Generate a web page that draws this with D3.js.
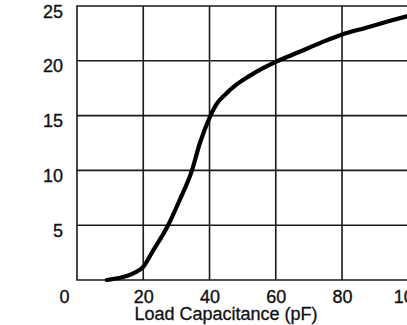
<!DOCTYPE html>
<html><head><meta charset="utf-8">
<script src="https://cdn.jsdelivr.net/npm/d3@7"></script>
<style>
html,body{margin:0;padding:0;background:#fff;}
svg{display:block;}
text{font-family:"Liberation Sans",Arial,sans-serif;fill:#111;}
</style></head>
<body><svg id="c" width="407" height="325"></svg>
<script>
// Data
const capacitance = [9, 13, 17, 20, 23, 27.5, 31, 34.7, 37.1, 40, 42, 45, 48, 52, 56, 60, 67, 74, 80, 87, 94, 100];
const yValues     = [0, 0.2, 0.6, 1.2, 2.7, 5, 7.3, 10, 12.5, 14.8, 16.0, 17.0, 17.8, 18.6, 19.3, 19.9, 20.8, 21.7, 22.4, 23.0, 23.6, 24.1];
const xTicks = [0, 20, 40, 60, 80, 100];
const yTicks = [5, 10, 15, 20, 25];
const xGrid = [20, 40, 60, 80];
const yGrid = [5, 10, 15, 20];
const xTitle = "Load Capacitance (pF)";

const svg = d3.select("#c");
const x = d3.scaleLinear().domain([0, 100]).range([77, 408.3]);
const y = d3.scaleLinear().domain([0, 25]).range([280, 6]);

const stroke = "#1a1a1a";
// gridlines
svg.append("g").selectAll("line").data(xGrid).join("line")
  .attr("x1", d => x(d)).attr("x2", d => x(d)).attr("y1", y(25)).attr("y2", y(0))
  .attr("stroke", stroke).attr("stroke-width", 1.6);
svg.append("g").selectAll("line").data(yGrid).join("line")
  .attr("x1", x(0)).attr("x2", x(100)).attr("y1", d => y(d)).attr("y2", d => y(d))
  .attr("stroke", stroke).attr("stroke-width", 1.6);
// frame
svg.append("path")
  .attr("d", `M${x(100)},${y(25)}H${x(0)}V${y(0)}H${x(100)}`)
  .attr("fill", "none").attr("stroke", stroke).attr("stroke-width", 1.6);

const fontFam = "Liberation Sans, Arial, sans-serif";
// axes (labels only)
const yAxis = svg.append("g").attr("transform", `translate(${x(0)},0)`)
  .call(d3.axisLeft(y).tickValues(yTicks).tickSize(0).tickPadding(14));
yAxis.select(".domain").remove();
yAxis.selectAll("text").attr("font-size", 18).attr("dy", "0.62em").attr("fill", "#111")
  .attr("stroke", "#111").attr("stroke-width", 0.35)
  .style("font-family", fontFam);

const xAxis = svg.append("g").attr("transform", `translate(0,${y(0)})`)
  .call(d3.axisBottom(x).tickValues(xTicks).tickSize(0).tickPadding(10));
xAxis.select(".domain").remove();
xAxis.selectAll("text").attr("font-size", 18).attr("fill", "#111")
  .attr("stroke", "#111").attr("stroke-width", 0.35)
  .style("font-family", fontFam)
  .attr("dx", d => d === 0 ? -13 : 0);

svg.append("text").attr("x", 226).attr("y", 320).attr("text-anchor", "middle")
  .attr("font-size", 18).attr("stroke", "#111").attr("stroke-width", 0.3).text(xTitle);

// curve
const line = d3.line().x((d, i) => x(capacitance[i])).y(d => y(d)).curve(d3.curveMonotoneX);
svg.append("path").datum(yValues).attr("d", line)
  .attr("fill", "none").attr("stroke", "#000").attr("stroke-width", 4.2)
  .attr("stroke-linecap", "round").attr("stroke-linejoin", "round");
</script></body></html>
